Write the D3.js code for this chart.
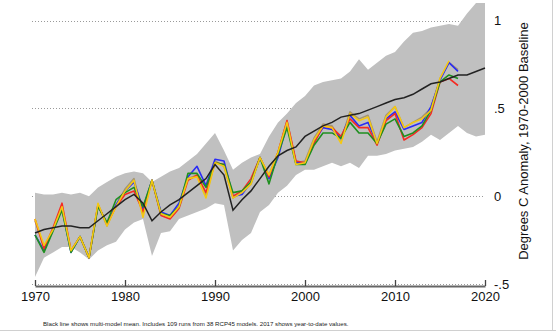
<!DOCTYPE html>
<html>
<head>
<meta charset="utf-8">
<script src="https://cdn.jsdelivr.net/npm/d3@7"></script>
<style>
  body { margin: 0; background: #fff; }
  svg { display: block; font-family: "Liberation Sans", Arial, Helvetica, sans-serif; }
</style>
</head>
<body>
<div id="chart"></div>
<script>
// years
var years = d3.range(1970, 2021);
var obsYears = d3.range(1970, 2018);

// model envelope (upper / lower) and multi-model mean, 1970-2020
var bandUpper = [0.02,0.01,0.01,0.02,0.01,0.02,0.00,0.05,0.08,0.11,
  0.13,0.14,0.13,0.08,0.11,0.14,0.16,0.20,0.24,0.30,
  0.36,0.26,0.15,0.19,0.22,0.24,0.34,0.42,0.47,0.53,
  0.57,0.63,0.65,0.66,0.67,0.71,0.78,0.72,0.76,0.80,
  0.82,0.88,0.93,0.94,0.96,0.97,0.98,0.97,1.04,1.10,1.10];
var bandLower = [-0.46,-0.35,-0.32,-0.29,-0.29,-0.32,-0.36,-0.31,-0.28,-0.26,
  -0.19,-0.15,-0.13,-0.34,-0.21,-0.20,-0.13,-0.11,-0.09,-0.07,
  -0.04,-0.05,-0.31,-0.25,-0.21,-0.09,-0.05,0.02,0.06,0.12,
  0.15,0.15,0.17,0.19,0.17,0.19,0.16,0.23,0.23,0.24,
  0.26,0.27,0.28,0.31,0.35,0.32,0.36,0.40,0.36,0.34,0.35];
var modelMean = [-0.21,-0.19,-0.18,-0.17,-0.17,-0.18,-0.18,-0.14,-0.10,-0.06,
  -0.02,0.01,-0.04,-0.14,-0.09,-0.05,-0.02,0.02,0.06,0.10,
  0.18,0.12,-0.08,-0.02,0.03,0.10,0.17,0.23,0.26,0.28,
  0.34,0.37,0.40,0.42,0.45,0.46,0.47,0.49,0.51,0.53,
  0.55,0.56,0.58,0.61,0.64,0.65,0.67,0.69,0.69,0.71,0.73];

// observational records, 1970-2017
var tanObs = [-0.14,-0.29,-0.19,-0.06,-0.31,-0.23,-0.35,-0.05,-0.17,-0.05,
  0.04,0.10,-0.10,0.09,-0.10,-0.12,-0.06,0.10,0.12,0.00,
  0.20,0.17,-0.01,0.02,0.07,0.22,0.12,0.25,0.43,0.19,
  0.20,0.33,0.41,0.40,0.32,0.48,0.44,0.46,0.31,0.46,
  0.51,0.39,0.42,0.45,0.50,0.67,0.76,0.72];
var blueObs = [-0.22,-0.31,-0.19,-0.07,-0.32,-0.23,-0.35,-0.05,-0.16,-0.05,
  0.03,0.08,-0.07,0.09,-0.09,-0.11,-0.04,0.11,0.17,0.06,
  0.21,0.20,0.00,0.01,0.08,0.22,0.10,0.22,0.41,0.19,
  0.19,0.31,0.39,0.38,0.33,0.46,0.40,0.42,0.30,0.44,
  0.48,0.38,0.40,0.42,0.51,0.66,0.76,0.71];
var redObs = [-0.13,-0.30,-0.18,-0.04,-0.31,-0.23,-0.35,-0.05,-0.16,-0.06,
  0.01,0.03,-0.09,0.09,-0.11,-0.13,-0.07,0.09,0.12,0.02,
  0.19,0.18,0.00,0.03,0.10,0.22,0.11,0.25,0.43,0.20,
  0.19,0.30,0.40,0.39,0.34,0.44,0.39,0.39,0.29,0.43,
  0.47,0.32,0.35,0.39,0.47,0.65,0.67,0.63];
var greenObs = [-0.22,-0.32,-0.20,-0.08,-0.32,-0.23,-0.35,-0.06,-0.15,-0.02,
  0.02,0.05,-0.06,0.09,-0.10,-0.11,-0.06,0.13,0.13,0.05,
  0.19,0.18,0.02,0.03,0.08,0.22,0.07,0.24,0.39,0.18,
  0.18,0.29,0.36,0.36,0.33,0.42,0.36,0.36,0.30,0.41,
  0.44,0.34,0.36,0.40,0.49,0.65,0.69,0.67];
var yellowObs = [-0.13,-0.28,-0.19,-0.06,-0.31,-0.23,-0.35,-0.04,-0.17,-0.06,
  0.03,0.09,-0.12,0.09,-0.10,-0.12,-0.06,0.10,0.11,-0.01,
  0.19,0.17,-0.01,0.02,0.07,0.22,0.12,0.25,0.42,0.18,
  0.19,0.32,0.40,0.39,0.30,0.47,0.43,0.45,0.30,0.45,
  0.51,0.39,0.42,0.44,0.49,0.67,0.77];

var yTicks = [1, 0.5, 0, -0.5];
var yTickLabels = ["1", ".5", "0", "-.5"];
var xTicks = [1970, 1980, 1990, 2000, 2010, 2020];

var W = 556, H = 331;

var svg = d3.select("#chart").append("svg")
  .attr("width", W)
  .attr("height", H);

var x = d3.scaleLinear().domain([1970, 2020]).range([35, 485]);
var y = d3.scaleLinear().domain([-0.5, 1]).range([284, 20.5]);

// dotted gridlines
svg.append("g")
  .selectAll("line")
  .data(yTicks)
  .enter()
  .append("line")
  .attr("x1", 32)
  .attr("x2", x(2020))
  .attr("y1", function(d) { return Math.round(y(d)) + 0.5; })
  .attr("y2", function(d) { return Math.round(y(d)) + 0.5; })
  .style("stroke", "#9a9a9a")
  .style("stroke-width", 1)
  .style("stroke-dasharray", "1,2");

// model range band
var area = d3.area()
  .x(function(d, i) { return x(years[i]); })
  .y0(function(d, i) { return y(bandLower[i]); })
  .y1(function(d, i) { return y(bandUpper[i]); });

svg.append("path")
  .datum(bandUpper)
  .attr("d", area)
  .style("fill", "#c0c0c0");

// observations
var obsLine = d3.line()
  .x(function(d, i) { return x(obsYears[i]); })
  .y(function(d) { return y(d); });

var series = [
  { values: tanObs, color: "#a39575" },
  { values: blueObs, color: "#2a2cf5" },
  { values: redObs, color: "#f52a22" },
  { values: greenObs, color: "#1f8f1f" },
  { values: yellowObs, color: "#f5c810" }
];

svg.append("g")
  .selectAll("path")
  .data(series)
  .enter()
  .append("path")
  .attr("d", function(d) { return obsLine(d.values); })
  .style("fill", "none")
  .style("stroke", function(d) { return d.color; })
  .style("stroke-width", 1.6)
  .style("stroke-linejoin", "round");

// multi-model mean
var meanLine = d3.line()
  .x(function(d, i) { return x(years[i]); })
  .y(function(d) { return y(d); });

svg.append("path")
  .datum(modelMean)
  .attr("d", meanLine)
  .style("fill", "none")
  .style("stroke", "#222")
  .style("stroke-width", 1.5);

// x axis, ticks pointing up
var xAxis = svg.append("g")
  .attr("transform", "translate(0,286)")
  .call(d3.axisBottom(x)
    .tickValues(xTicks)
    .tickFormat(d3.format("d"))
    .tickSizeInner(-6)
    .tickSizeOuter(0)
    .tickPadding(6));

xAxis.select(".domain").style("stroke", "#666").style("stroke-width", 2);
xAxis.selectAll(".tick line").style("stroke", "#444").style("stroke-width", 1.3);
xAxis.selectAll("text")
  .style("font-size", "13px")
  .style("fill", "#111")
  .style("font-family", "'Liberation Sans', Arial, Helvetica, sans-serif");

// right y labels
svg.append("g")
  .selectAll("text")
  .data(yTicks)
  .enter()
  .append("text")
  .attr("x", 494)
  .attr("y", function(d) { return y(d); })
  .attr("dy", "0.36em")
  .style("font-size", "13px")
  .style("fill", "#111")
  .text(function(d, i) { return yTickLabels[i]; });

// y axis title
svg.append("text")
  .attr("transform", "translate(528,141) rotate(-90)")
  .attr("text-anchor", "middle")
  .style("font-size", "13px")
  .style("fill", "#111")
  .text("Degrees C Anomaly, 1970-2000 Baseline");

// caption
var caption = svg.append("text")
  .attr("x", 43)
  .attr("y", 326)
  .style("font-size", "10px")
  .style("fill", "#222")
  .text("Black line shows multi-model mean. Includes 109 runs from 38 RCP45 models. 2017 shows year-to-date values.");
var capLen = caption.node().getComputedTextLength();
caption.style("font-size", (10 * 306 / capLen) + "px");

// frame edges
svg.append("line")
  .attr("x1", 552.5).attr("x2", 552.5).attr("y1", 0).attr("y2", H)
  .style("stroke", "#d0d0d0");
svg.append("line")
  .attr("x1", 0).attr("x2", W).attr("y1", 330.5).attr("y2", 330.5)
  .style("stroke", "#d0d0d0");
</script>
</body>
</html>
